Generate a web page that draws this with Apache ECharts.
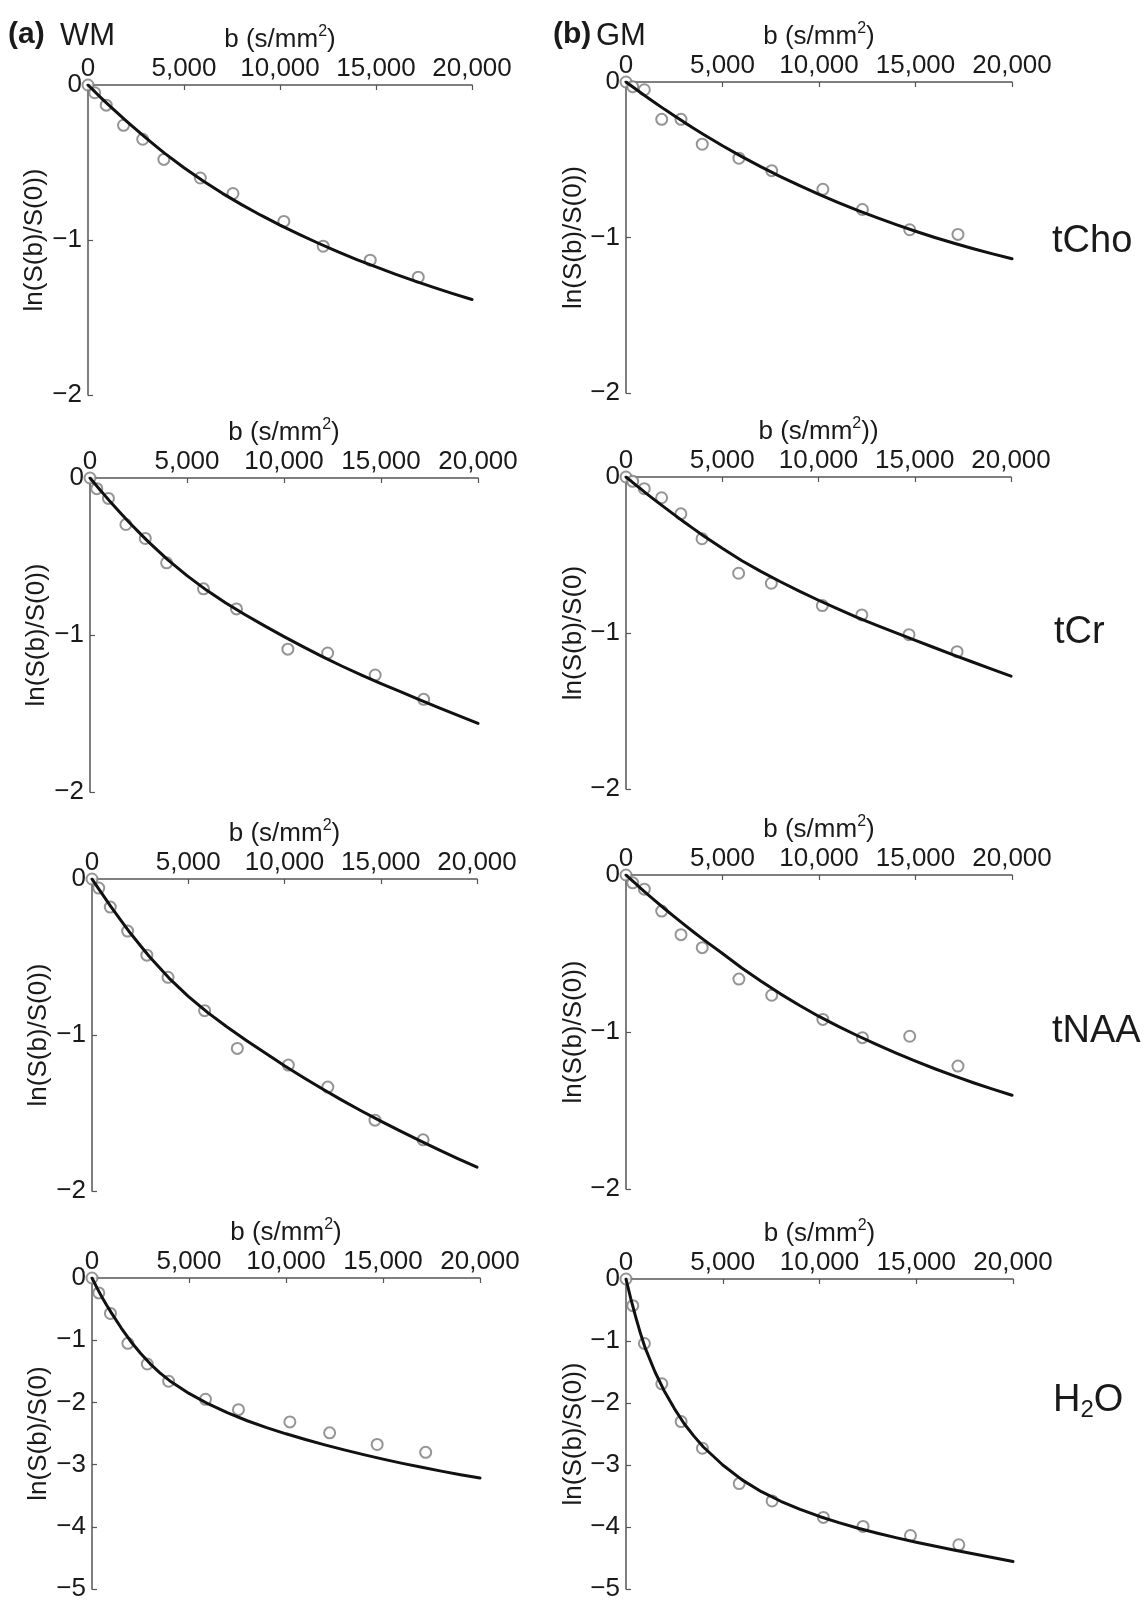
<!DOCTYPE html>
<html>
<head>
<meta charset="utf-8">
<script src="https://cdn.jsdelivr.net/npm/echarts@6/dist/echarts.min.js"></script>
<style>
  html, body { margin: 0; padding: 0; background: #fff; }
  #chart { width: 1148px; height: 1602px; }
</style>
</head>
<body>
<div id="chart"></div>
<script>
// b-values (s/mm^2) of the measured signals
const bValues = [0, 350, 950, 1850, 2850, 3950, 5850, 7550, 10200, 12250, 14700, 17200];
// b-values at which the fitted decay curves are sampled
const fitB = [0, 250, 500, 750, 1000, 1500, 2000, 2500, 3000, 3500, 4000, 5000, 6000, 7000, 8000,
              9000, 10000, 11000, 12000, 13000, 14000, 15000, 16000, 17000, 18000, 19000, 20000];

// ln(S(b)/S(0)) — measured points and fitted curve, white matter (WM) and grey matter (GM)
const wmChoPts = [0, -0.05, -0.13, -0.26, -0.35, -0.48, -0.60, -0.70, -0.88, -1.04, -1.13, -1.24];
const wmChoFit = [0, -0.03, -0.061, -0.091, -0.12, -0.177, -0.233, -0.287, -0.34, -0.391, -0.441, -0.534, -0.62, -0.699,
                  -0.772, -0.84, -0.904, -0.964, -1.021, -1.075, -1.126, -1.174, -1.22, -1.264, -1.306, -1.346, -1.384];
const gmChoPts = [0, -0.03, -0.05, -0.24, -0.24, -0.40, -0.49, -0.57, -0.69, -0.82, -0.95, -0.98];
const gmChoFit = [0, -0.023, -0.045, -0.068, -0.09, -0.133, -0.176, -0.217, -0.258, -0.297, -0.336, -0.41, -0.48, -0.546,
                  -0.608, -0.667, -0.723, -0.775, -0.825, -0.872, -0.917, -0.96, -1.0, -1.037, -1.072, -1.105, -1.137];

const wmCrPts = [0, -0.068, -0.13, -0.296, -0.385, -0.54, -0.706, -0.834, -1.09, -1.115, -1.255, -1.41];
const wmCrFit = [0, -0.037, -0.073, -0.109, -0.145, -0.213, -0.28, -0.343, -0.405, -0.463, -0.52, -0.622, -0.714, -0.796,
                 -0.871, -0.942, -1.01, -1.076, -1.139, -1.199, -1.256, -1.31, -1.361, -1.413, -1.464, -1.514, -1.563];
const gmCrPts = [0, -0.028, -0.075, -0.133, -0.236, -0.396, -0.617, -0.681, -0.824, -0.884, -1.011, -1.12];
const gmCrFit = [0, -0.025, -0.05, -0.075, -0.1, -0.148, -0.195, -0.241, -0.287, -0.331, -0.375, -0.457, -0.535, -0.605,
                 -0.67, -0.731, -0.79, -0.846, -0.90, -0.95, -0.998, -1.046, -1.093, -1.14, -1.186, -1.232, -1.277];

const wmNaaPts = [0, -0.058, -0.18, -0.334, -0.488, -0.63, -0.844, -1.086, -1.193, -1.334, -1.546, -1.672];
const wmNaaFit = [0, -0.046, -0.091, -0.136, -0.18, -0.265, -0.348, -0.425, -0.5, -0.568, -0.635, -0.752, -0.855, -0.947,
                  -1.033, -1.116, -1.197, -1.274, -1.348, -1.419, -1.487, -1.552, -1.615, -1.676, -1.735, -1.792, -1.847];
const gmNaaPts = [0, -0.05, -0.09, -0.23, -0.38, -0.463, -0.663, -0.766, -0.92, -1.036, -1.027, -1.217];
const gmNaaFit = [0, -0.028, -0.055, -0.083, -0.11, -0.163, -0.215, -0.265, -0.315, -0.363, -0.41, -0.50, -0.592, -0.677,
                  -0.757, -0.831, -0.901, -0.964, -1.024, -1.081, -1.135, -1.186, -1.234, -1.28, -1.323, -1.364, -1.403];

const wmH2oPts = [0, -0.24, -0.57, -1.05, -1.383, -1.66, -1.95, -2.117, -2.314, -2.489, -2.676, -2.803];
const wmH2oFit = [0, -0.155, -0.30, -0.435, -0.56, -0.80, -1.02, -1.21, -1.38, -1.525, -1.65, -1.855, -2.025, -2.17,
                  -2.295, -2.405, -2.505, -2.597, -2.683, -2.764, -2.84, -2.912, -2.98, -3.044, -3.105, -3.162, -3.215];
const gmH2oPts = [0, -0.43, -1.04, -1.69, -2.30, -2.73, -3.30, -3.58, -3.845, -3.99, -4.138, -4.287];
const gmH2oFit = [0, -0.32, -0.61, -0.88, -1.12, -1.50, -1.82, -2.09, -2.33, -2.53, -2.71, -3.00, -3.24, -3.43,
                  -3.585, -3.715, -3.83, -3.93, -4.02, -4.10, -4.175, -4.245, -4.31, -4.375, -4.437, -4.497, -4.555];

// axis ranges and titles
const xTicks = [0, 5000, 10000, 15000, 20000];
const bTitle = 'b (s/mm{sup|2})';
const bTitleExtra = 'b (s/mm{sup|2}))';
const lnTitle = 'ln(S(b)/S(0))';
const lnTitleShort = 'ln(S(b)/S(0)';

const FONT = '"Liberation Sans", Arial, Helvetica, sans-serif';
const INK = '#1a1a1a';
const AXIS = '#555';

// panel setup: data, y range, titles and placement
const panels = [
  { pts: wmChoPts, fit: wmChoFit, yMin: -2, xName: bTitle,      yName: lnTitle,      box: { left: 88,  top: 85,   width: 384, height: 310 } },
  { pts: gmChoPts, fit: gmChoFit, yMin: -2, xName: bTitle,      yName: lnTitle,      box: { left: 626, top: 82,   width: 386, height: 311 } },
  { pts: wmCrPts,  fit: wmCrFit,  yMin: -2, xName: bTitle,      yName: lnTitle,      box: { left: 90,  top: 478,  width: 388, height: 314 } },
  { pts: gmCrPts,  fit: gmCrFit,  yMin: -2, xName: bTitleExtra, yName: lnTitleShort, box: { left: 626, top: 477,  width: 385, height: 312 } },
  { pts: wmNaaPts, fit: wmNaaFit, yMin: -2, xName: bTitle,      yName: lnTitle,      box: { left: 92,  top: 879,  width: 385, height: 312 } },
  { pts: gmNaaPts, fit: gmNaaFit, yMin: -2, xName: bTitle,      yName: lnTitle,      box: { left: 626, top: 875,  width: 386, height: 314 } },
  { pts: wmH2oPts, fit: wmH2oFit, yMin: -5, xName: bTitle,      yName: lnTitleShort, box: { left: 92,  top: 1278, width: 388, height: 314 } },
  { pts: gmH2oPts, fit: gmH2oFit, yMin: -5, xName: bTitle,      yName: lnTitle,      box: { left: 626, top: 1279, width: 387, height: 314 } }
];

const grids = [], xAxes = [], yAxes = [], series = [];

panels.forEach((p, i) => {
  const isLeft = i % 2 === 0;
  grids.push(Object.assign({ containLabel: false }, p.box));

  xAxes.push({
    gridIndex: i, type: 'value', position: 'top',
    min: xTicks[0], max: xTicks[xTicks.length - 1], interval: xTicks[1] - xTicks[0],
    name: p.xName, nameLocation: 'middle', nameGap: 29,
    nameTextStyle: {
      fontFamily: FONT, fontSize: 26, color: INK,
      rich: { sup: { fontFamily: FONT, fontSize: 16, color: INK, padding: [0, 0, 16, 0] } }
    },
    axisLine: { show: true, onZero: false, lineStyle: { color: AXIS, width: 1.5 } },
    axisTick: { show: true, inside: true, length: 5, lineStyle: { color: AXIS, width: 1.2 } },
    axisLabel: {
      fontFamily: FONT, fontSize: 26, color: INK, margin: 3,
      formatter: v => v.toLocaleString('en-US')
    },
    splitLine: { show: false }
  });

  yAxes.push({
    gridIndex: i, type: 'value', min: p.yMin, max: 0, interval: 1,
    name: p.yName, nameLocation: 'middle', nameGap: isLeft ? 40 : 30,
    nameTextStyle: { fontFamily: FONT, fontSize: 26, color: INK },
    axisLine: { show: true, onZero: false, lineStyle: { color: AXIS, width: 1.5 } },
    axisTick: { show: true, inside: true, length: 5, lineStyle: { color: AXIS, width: 1.2 } },
    axisLabel: {
      fontFamily: FONT, fontSize: 26, color: INK, margin: 6,
      formatter: v => (v === 0 ? '0' : '\u2212' + Math.abs(v))
    },
    splitLine: { show: false }
  });

  series.push({
    type: 'scatter', xAxisIndex: i, yAxisIndex: i, z: 2,
    symbol: 'emptyCircle', symbolSize: 11,
    itemStyle: { color: '#7a7a7a', borderColor: '#7a7a7a', borderWidth: 1.3 },
    data: bValues.map((b, k) => [b, p.pts[k]])
  });
  series.push({
    type: 'line', xAxisIndex: i, yAxisIndex: i, z: 3,
    smooth: false, showSymbol: false, symbol: 'none',
    lineStyle: { color: '#111', width: 3, join: 'round', cap: 'round' },
    data: fitB.map((b, k) => [b, p.fit[k]])
  });
});

// column headers and metabolite names
const textEl = (x, y, text, size, extra) => ({
  type: 'text', x: x, y: y, silent: true,
  style: Object.assign({
    text: text, fill: INK, font: size + 'px ' + FONT,
    align: 'left', verticalAlign: 'middle', textAlign: 'left', textVerticalAlign: 'middle'
  }, extra || {})
});

const graphic = [
  textEl(8, 35, '(a)', 30, { font: 'bold 30px ' + FONT }),
  textEl(60, 36, 'WM', 31),
  textEl(553, 35, '(b)', 30, { font: 'bold 30px ' + FONT }),
  textEl(596, 36, 'GM', 31),
  textEl(1052, 242, 'tCho', 38),
  textEl(1054, 633, 'tCr', 38),
  textEl(1052, 1032, 'tNAA', 38),
  textEl(1053, 1401, 'H{sub|2}O', 38, {
    rich: { sub: { fontFamily: FONT, fontSize: 24, fill: INK, padding: [18, 0, 0, 0] } }
  })
];

const chart = echarts.init(document.getElementById('chart'), null, { renderer: 'canvas' });
chart.setOption({
  backgroundColor: '#fff',
  animation: false,
  grid: grids,
  xAxis: xAxes,
  yAxis: yAxes,
  series: series,
  graphic: graphic
});
</script>
</body>
</html>
